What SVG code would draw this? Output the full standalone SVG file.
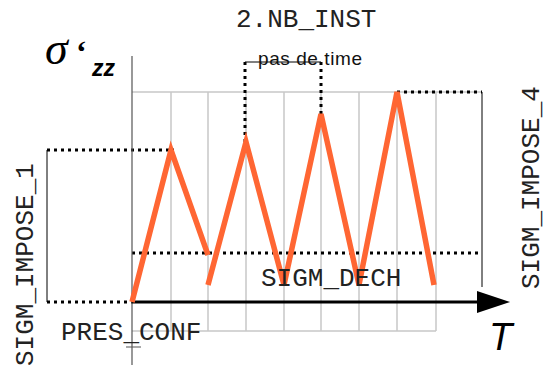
<svg xmlns="http://www.w3.org/2000/svg" width="547" height="365" viewBox="0 0 547 365">
<style>
.grid{stroke:#c8c8c8;stroke-width:1.5;fill:none}
.dot{stroke:#000;stroke-width:3;stroke-dasharray:3 4;fill:none}
.thin{stroke:#000;stroke-width:1;fill:none}
.mono{font-family:"Liberation Mono","Courier New",monospace;font-size:26px;fill:#222}
.curve{stroke:#ff6633;stroke-width:5.5;fill:none;stroke-linejoin:miter}
</style>
<rect width="547" height="365" fill="#fff"/>
<g id="grid">
<path class="grid" d="M132,92H482M132,331H436M171,92V331M208,92V331M246,92V331M284,92V331M321,92V331M359,92V331M397,92V331M436,92V331"/>
</g>
<g id="connectors">
<path class="dot" d="M47,150H174M47,302H132M132,253H482M397,92H482M245,142V62M321,114V62"/>
<path class="thin" d="M47,150V302M482,92V287M245,62H321"/>
<path d="M132,56V365M126,347H141" stroke="#555" stroke-width="1.2" fill="none"/>
<path d="M132,302H478" stroke="#000" stroke-width="3"/>
<polygon points="477,291 510,302 477,313" fill="#000"/>
</g>
<g id="curve">
<path class="curve" d="M132,302L171,150L208,255"/>
<path class="curve" d="M208,285L246,142L284,285L321,114L359,285L397,92L434,285"/>
</g>
<g id="labels">
<text class="mono" x="236" y="27">2.NB_INST</text>
<text x="258" y="65" font-family="Liberation Sans,Arial,sans-serif" font-size="19" textLength="104" fill="#111">pas de time</text>
<text x="45" y="64" font-family="Liberation Serif,serif" font-style="italic" font-size="46" fill="#000">σ</text>
<text x="76" y="63" font-family="Liberation Serif,serif" font-weight="bold" font-size="32" fill="#000">‘</text>
<text x="92" y="76" font-family="Liberation Sans,Arial,sans-serif" font-style="italic" font-weight="bold" font-size="23" fill="#000">zz</text>
<text x="489" y="350" font-family="Liberation Sans,Arial,sans-serif" font-style="italic" font-size="38" fill="#000">T</text>
<text class="mono" x="61" y="340">PRES_CONF</text>
<text class="mono" x="261" y="286">SIGM_DECH</text>
<text class="mono" transform="translate(33,366) rotate(-90)">SIGM_IMPOSE_1</text>
<text class="mono" transform="translate(539,289) rotate(-90)">SIGM_IMPOSE_4</text>
</g>
</svg>
